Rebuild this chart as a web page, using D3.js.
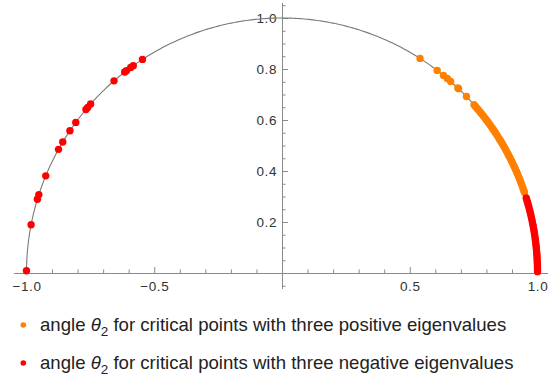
<!DOCTYPE html>
<html>
<head>
<meta charset="utf-8">
<script src="https://cdn.jsdelivr.net/npm/d3@7"></script>
<style>
  body { margin: 0; background: #fff; }
  text { font-family: "Liberation Sans", Arial, sans-serif; }
</style>
</head>
<body>
<div id="chart"></div>
<script>
const width = 548,
  height = 383;

// angle theta_2 in degrees
const positiveAngles = [57.3, 52.6, 50.8, 49.7, 48.7, 46.5, 46.3, 43.8,
  41.3, 40.8, 40.2, 39.7, 39.1, 38.6, 38.0, 37.4, 36.9, 36.3, 35.8, 35.2,
  34.6, 34.1, 33.5, 33.0, 32.4, 31.8, 31.3, 30.7, 30.2, 29.6, 29.0, 28.5,
  27.9, 27.4, 26.8, 26.2, 25.7, 25.1, 24.6, 24.0, 23.4, 22.9, 22.3, 21.7,
  21.2, 20.6, 20.1, 19.5, 18.9, 18.4];
const negativeAngles = [123.1, 125.6, 126.3, 127.5, 128.0, 131.1, 138.5,
  139.5, 140.1, 143.8, 146.1, 149.1, 151.0, 157.6, 162.1, 163.2, 169.1, 179.5,
  17.1, 16.7, 16.1, 15.6, 15.0, 14.4, 13.9, 13.3, 12.7, 12.2, 11.6, 11.0,
  10.5, 9.9, 9.3, 8.8, 8.2, 7.6, 7.1, 6.5, 5.9, 5.4, 4.8, 4.2, 3.7, 3.1,
  2.5, 2.0, 1.4, 0.8, 0.3];

const xMajor = [-1, -0.5, 0.5, 1];
const xMinor = [-0.9, -0.8, -0.7, -0.6, -0.4, -0.3, -0.2, -0.1, 0.1, 0.2, 0.3, 0.4, 0.6, 0.7, 0.8, 0.9];
const yMajor = [0.2, 0.4, 0.6, 0.8, 1.0];
const yMinor = [-0.05, 0.05, 0.1, 0.15, 0.25, 0.3, 0.35, 0.45, 0.5, 0.55, 0.65, 0.7, 0.75, 0.85, 0.9, 0.95, 1.05];

const legendLabels = ["three positive eigenvalues", "three negative eigenvalues"];
const colors = ["#ff8000", "#ff0000"];

var x = d3.scaleLinear().domain([-1.05, 1.05]).range([13.7, 550.3]);
var y = d3.scaleLinear().domain([-0.06, 1.06]).range([288.3, 2.7]);

var svg = d3.select("#chart").append("svg")
    .attr("width", width)
    .attr("height", height);

var fmt = function(d) { return d3.format(".1f")(d).replace("-", "\u2212"); };

// x axis
svg.append("g").attr("transform", "translate(0," + y(0) + ")")
    .call(d3.axisBottom(x).tickValues(xMajor).tickFormat(fmt).tickSizeInner(-6).tickSizeOuter(0).tickPadding(8));
svg.append("g").attr("transform", "translate(0," + y(0) + ")")
    .call(d3.axisBottom(x).tickValues(xMinor).tickFormat("").tickSizeInner(-3.5).tickSizeOuter(0));

// y axis
svg.append("g").attr("transform", "translate(" + x(0) + ",0)")
    .call(d3.axisLeft(y).tickValues(yMajor).tickFormat(fmt).tickSizeInner(-6).tickSizeOuter(0).tickPadding(5));
svg.append("g").attr("transform", "translate(" + x(0) + ",0)")
    .call(d3.axisLeft(y).tickValues(yMinor).tickFormat("").tickSizeInner(-3.5).tickSizeOuter(0));

svg.selectAll(".domain, .tick line").attr("stroke", "#8a8a8a");
svg.selectAll(".tick text").attr("fill", "#333")
    .style("font-size", "13.5px")
    .style("letter-spacing", "0.6px");

// unit semicircle
var circleLine = d3.line()
    .x(function(a) { return x(Math.cos(a * Math.PI / 180)); })
    .y(function(a) { return y(Math.sin(a * Math.PI / 180)); });
svg.append("path")
    .attr("d", circleLine(d3.range(0, 180.5, 0.5)))
    .attr("fill", "none")
    .attr("stroke", "#7a7a7a")
    .attr("stroke-width", 1.1);

// points
[positiveAngles, negativeAngles].forEach(function(angles, i) {
  svg.append("g").selectAll("circle")
    .data(angles)
    .enter().append("circle")
      .attr("cx", function(a) { return x(Math.cos(a * Math.PI / 180)); })
      .attr("cy", function(a) { return y(Math.sin(a * Math.PI / 180)); })
      .attr("r", 3.7)
      .attr("fill", colors[i]);
});

// legend
var legend = svg.append("g").selectAll("g")
    .data(legendLabels)
    .enter().append("g")
    .attr("transform", function(d, i) { return "translate(0," + (325 + i * 38) + ")"; });

legend.append("circle")
    .attr("cx", 23.3)
    .attr("r", 2.8)
    .attr("fill", function(d, i) { return colors[i]; });

var lt = legend.append("text")
    .attr("x", 40)
    .attr("dy", "0.3em")
    .attr("fill", "#222")
    .style("font-size", "18.6px");
lt.append("tspan").text("angle ");
lt.append("tspan").style("font-style", "italic").text("\u03b8");
lt.append("tspan").attr("dy", 5).style("font-size", "13.5px").text("2");
lt.append("tspan").attr("dy", -5).text(function(d) { return " for critical points with " + d; });
</script>
</body>
</html>
